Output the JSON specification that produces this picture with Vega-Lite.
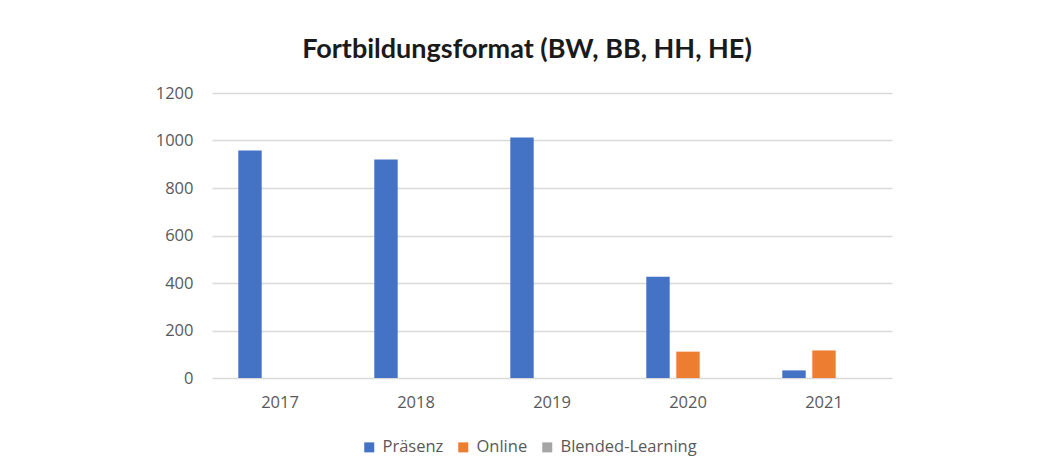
{
  "$schema": "https://vega.github.io/schema/vega-lite/v6.json",
  "width": 680,
  "height": 285,
  "autosize": {"type": "none"},
  "padding": {"left": 212, "top": 93, "right": 145, "bottom": 96},
  "background": "white",
  "title": {
    "text": "Fortbildungsformat (BW, BB, HH, HE)",
    "font": "Lato",
    "fontSize": 27,
    "fontWeight": "bold",
    "color": "#1a1a1a",
    "anchor": "middle",
    "dx": -25,
    "offset": 21
  },
  "data": {
    "values": [
      {"Jahr": "2017", "Format": "Präsenz", "Anzahl": 958},
      {"Jahr": "2017", "Format": "Online", "Anzahl": 0},
      {"Jahr": "2017", "Format": "Blended-Learning", "Anzahl": 0},
      {"Jahr": "2018", "Format": "Präsenz", "Anzahl": 920},
      {"Jahr": "2018", "Format": "Online", "Anzahl": 0},
      {"Jahr": "2018", "Format": "Blended-Learning", "Anzahl": 0},
      {"Jahr": "2019", "Format": "Präsenz", "Anzahl": 1013},
      {"Jahr": "2019", "Format": "Online", "Anzahl": 0},
      {"Jahr": "2019", "Format": "Blended-Learning", "Anzahl": 0},
      {"Jahr": "2020", "Format": "Präsenz", "Anzahl": 426},
      {"Jahr": "2020", "Format": "Online", "Anzahl": 111},
      {"Jahr": "2020", "Format": "Blended-Learning", "Anzahl": 0},
      {"Jahr": "2021", "Format": "Präsenz", "Anzahl": 32},
      {"Jahr": "2021", "Format": "Online", "Anzahl": 116},
      {"Jahr": "2021", "Format": "Blended-Learning", "Anzahl": 0}
    ]
  },
  "mark": {"type": "bar"},
  "encoding": {
    "x": {
      "field": "Jahr",
      "type": "nominal",
      "scale": {"paddingInner": 0.338, "paddingOuter": 0.169},
      "axis": {
        "title": null,
        "labelAngle": 0,
        "ticks": false,
        "domain": false,
        "labelPadding": 16,
        "labelFont": "Open Sans",
        "labelFontSize": 16.5,
        "labelColor": "#595959"
      }
    },
    "xOffset": {
      "field": "Format",
      "type": "nominal",
      "sort": ["Präsenz", "Online", "Blended-Learning"],
      "scale": {"paddingInner": 0.22, "paddingOuter": 0.11}
    },
    "y": {
      "field": "Anzahl",
      "type": "quantitative",
      "scale": {"domain": [0, 1200]},
      "axis": {
        "title": null,
        "values": [0, 200, 400, 600, 800, 1000, 1200],
        "format": "d",
        "ticks": false,
        "domain": false,
        "labelPadding": 19,
        "labelFont": "Open Sans",
        "labelFontSize": 16.5,
        "labelColor": "#595959",
        "gridColor": "#d9d9d9",
        "gridWidth": 1.5
      }
    },
    "color": {
      "field": "Format",
      "type": "nominal",
      "sort": ["Präsenz", "Online", "Blended-Learning"],
      "scale": {
        "domain": ["Präsenz", "Online", "Blended-Learning"],
        "range": ["#4472C4", "#ED7D31", "#A5A5A5"]
      },
      "legend": {
        "title": null,
        "orient": "none",
        "direction": "horizontal",
        "legendX": 149,
        "legendY": 346,
        "symbolType": "square",
        "symbolSize": 100,
        "symbolStrokeWidth": 0,
        "labelFont": "Open Sans",
        "labelFontSize": 16.5,
        "labelColor": "#595959",
        "columnPadding": 11,
        "labelOffset": 5
      }
    }
  },
  "config": {
    "view": {"stroke": null}
  }
}
